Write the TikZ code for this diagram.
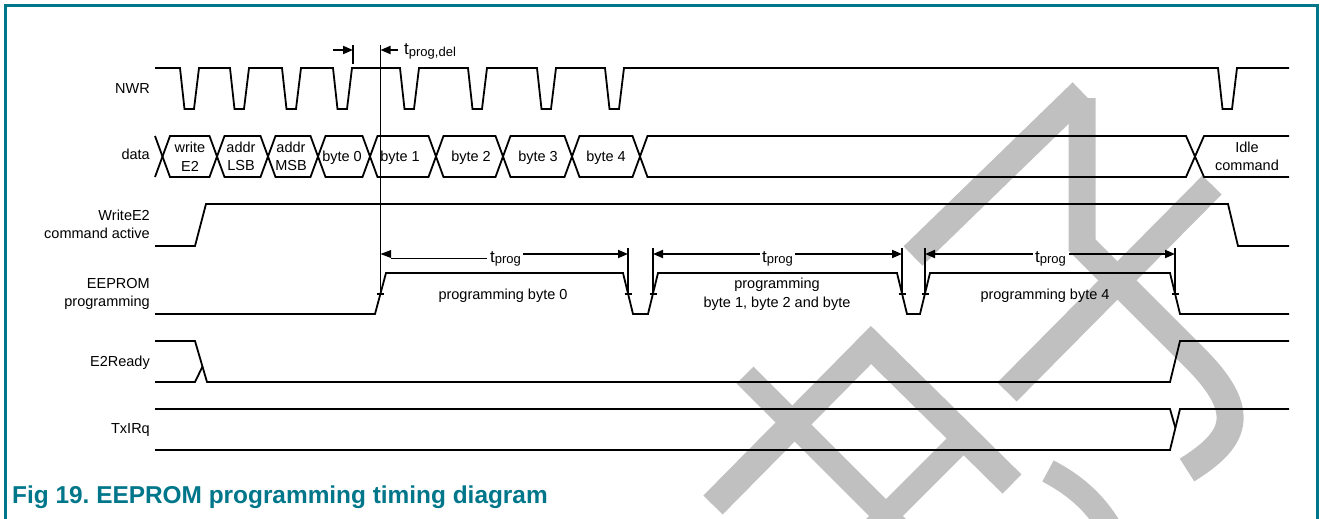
\documentclass[tikz,border=0pt]{standalone}
\usepackage{fontspec}
\setmainfont{Liberation Sans}
\usetikzlibrary{arrows.meta}
\definecolor{nxpteal}{RGB}{0,118,138}
\definecolor{wmgray}{RGB}{192,192,192}
\frenchspacing
\begin{document}
\begin{tikzpicture}[x=1pt,y=-1pt,
  sig/.style={line width=1.8pt, line join=miter},
  thinln/.style={line width=0.9pt},
  lbl/.style={font=\fontsize{14.5}{18}\selectfont, inner sep=0pt, align=right, anchor=east},
  txt/.style={font=\fontsize{14.5}{18.5}\selectfont, inner sep=0pt, align=center},
  tlbl/.style={font=\fontsize{17}{20}\selectfont, inner sep=0pt, anchor=base west},
  wmk/.style={line width=27pt, draw=wmgray, line join=miter},
  dimln/.style={line width=1.8pt},
  tickln/.style={line width=1.5pt},
  arr/.style={-{Triangle[length=10pt,width=8pt]}},
]
\useasboundingbox (0,0) rectangle (1325,519);
% watermark
\begin{scope}
\clip (0,0) rectangle (1325,519);
\draw[wmk] (1082,92) -- (913,256);
\draw[wmk] (1082,98) -- (1082,245) -- (1195,358) .. controls (1250,413) and (1235,440) .. (1187,470);
\draw[wmk] (1212,185) -- (1007,392);
\draw[wmk] (713,505) -- (871,345) -- (1012,484);
\draw[wmk, line width=24pt] (745,375) -- (905,535);
\draw[wmk, line width=24pt] (962,440) -- (870,532);
\draw[wmk, line width=24pt] (1048,471) .. controls (1075,485) and (1095,503) .. (1110,528);
\end{scope}
% frame
\draw[nxpteal, line width=3pt] (5.5,519) -- (5.5,5.5) -- (1317,5.5) -- (1317,519);
\node[anchor=base west, inner sep=0pt, text=nxpteal, font=\bfseries\fontsize{24.4}{28}\selectfont] (title) at (12,503) {Fig 19. EEPROM programming timing diagram};
% labels
\node[lbl] (lnwr) at (150,89) {NWR};
\node[lbl] (ldata) at (150,154) {data};
\node[lbl] (lwe2) at (150,224) {WriteE2\\command active};
\node[lbl] (leep) at (150,293.5) {EEPROM\\programming};
\node[lbl] (lrdy) at (150,363) {E2Ready};
\node[lbl] (ltx) at (150,430) {TxIRq};
% NWR
\draw[sig] (155,68) \foreach \f in {180,230,282,333,400,468,537,605,1218} { -- (\f,68) -- ({\f+4.5},109) -- ({\f+14},109) -- ({\f+19},68) } -- (1289,68);
% data
\draw[sig] (155,136) -- (170,177) -- (209.5,177) -- (224.5,136) -- (260.5,136) -- (275.5,177) -- (310.5,177) -- (325.5,136) -- (362.5,136) -- (377.5,177) -- (428.5,177) -- (443.5,136) -- (495.5,136) -- (510.5,177) -- (564.5,177) -- (579.5,136) -- (632.5,136) -- (647.5,177) -- (1186,177) -- (1204,136) -- (1289,136);
\draw[sig] (155,177) -- (170,136) -- (209.5,136) -- (224.5,177) -- (260.5,177) -- (275.5,136) -- (310.5,136) -- (325.5,177) -- (362.5,177) -- (377.5,136) -- (428.5,136) -- (443.5,177) -- (495.5,177) -- (510.5,136) -- (564.5,136) -- (579.5,177) -- (632.5,177) -- (647.5,136) -- (1186,136) -- (1204,177) -- (1289,177);
\node[txt] (d0) at (190,156.5) {write\\E2};
\node[txt] (d1) at (241,156.5) {addr\\LSB};
\node[txt] (d2) at (291,156.5) {addr\\MSB};
\node[txt] (d3) at (342,158) {byte 0};
\node[txt] (d4) at (400,158) {byte 1};
\node[txt] (d5) at (471,158) {byte 2};
\node[txt] (d6) at (538,158) {byte 3};
\node[txt] (d7) at (606,158) {byte 4};
\node[txt] (d8) at (1247,156.5) {Idle\\command};
% WriteE2 command active
\draw[sig] (155,246) -- (195,246) -- (206,204) -- (1228,204) -- (1238,246) -- (1289,246);
% EEPROM programming
\draw[sig] (155,314) -- (375,314) -- (386,273) -- (623,273) -- (633,314) -- (648,314) -- (658,273) -- (897,273) -- (907,314) -- (920,314) -- (930,273) -- (1170,273) -- (1180,314) -- (1289,314);
\foreach \x in {380.5,628,653,902,925,1175} \draw[tickln] ({\x-3.5},294) -- ({\x+3.5},294);
\foreach \x in {628,653,902,925,1175} \draw[tickln] (\x,248) -- (\x,294);
\node[txt] (p0) at (503,296) {programming byte 0};
\node[txt] (p1) at (777,294) {programming\\byte 1, byte 2 and byte};
\node[txt] (p2) at (1045,296) {programming byte 4};
% t_prog,del
\coordinate (dl0) at (333,50);
\coordinate (dl1) at (353,50);
\coordinate (dr0) at (398,50);
\coordinate (dr1) at (380.5,50);
\draw[dimln,arr] (dl0) -- (dl1);
\draw[tickln] (353,45) -- (353,64);
\draw[dimln,arr] (dr0) -- (dr1);
\draw[tickln] (380.5,45) -- (380.5,294);
\node[tlbl] (tdel) at (404,55) {t\raisebox{-1.5pt}{\fontsize{13}{15}\selectfont prog,del}};
% t_prog 1
\fill (380.5,254) -- (391,250) -- (391,258) -- cycle;
\draw[thinln] (391,258.5) -- (487,258.5);
\node[tlbl] (tp0) at (490,262) {t\raisebox{-1.5pt}{\fontsize{13}{15}\selectfont prog}};
\draw[dimln,arr] (523,254) -- (628,254);
% t_prog 2
\draw[dimln,arr] (760,254) -- (653,254);
\node[tlbl] (tp1) at (762,262) {t\raisebox{-1.5pt}{\fontsize{13}{15}\selectfont prog}};
\draw[dimln,arr] (795,254) -- (902,254);
% t_prog 3
\draw[dimln,arr] (1033,254) -- (925,254);
\node[tlbl] (tp2) at (1035,262) {t\raisebox{-1.5pt}{\fontsize{13}{15}\selectfont prog}};
\draw[dimln,arr] (1069,254) -- (1175,254);
% E2Ready
\draw[sig] (155,341) -- (195,341) -- (207,382) -- (1170,382) -- (1180,341) -- (1289,341);
\draw[sig] (155,382) -- (195,382) -- (202.5,366.5);
% TxIRq
\draw[sig] (155,409) -- (1170,409) -- (1175.4,428);
\draw[sig] (155,450) -- (1170,450) -- (1180,409) -- (1289,409);
\end{tikzpicture}
\end{document}
